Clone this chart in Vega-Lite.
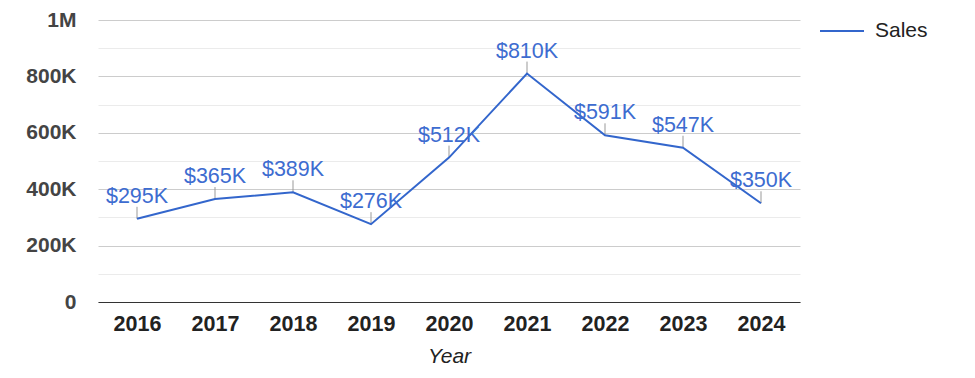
{
  "$schema": "https://vega.github.io/schema/vega-lite/v6.json",
  "width": 702,
  "height": 282,
  "autosize": {"type": "none"},
  "padding": {"left": 98, "top": 20, "right": 175, "bottom": 76},
  "background": "white",
  "config": {
    "font": "Liberation Sans",
    "view": {"stroke": null}
  },
  "data": {
    "values": [
      {"Year": "2016", "Sales": 295000, "Label": "$295K", "Series": "Sales"},
      {"Year": "2017", "Sales": 365000, "Label": "$365K", "Series": "Sales"},
      {"Year": "2018", "Sales": 389000, "Label": "$389K", "Series": "Sales"},
      {"Year": "2019", "Sales": 276000, "Label": "$276K", "Series": "Sales"},
      {"Year": "2020", "Sales": 512000, "Label": "$512K", "Series": "Sales"},
      {"Year": "2021", "Sales": 810000, "Label": "$810K", "Series": "Sales"},
      {"Year": "2022", "Sales": 591000, "Label": "$591K", "Series": "Sales"},
      {"Year": "2023", "Sales": 547000, "Label": "$547K", "Series": "Sales"},
      {"Year": "2024", "Sales": 350000, "Label": "$350K", "Series": "Sales"}
    ]
  },
  "encoding": {
    "x": {
      "field": "Year",
      "type": "ordinal",
      "scale": {"type": "point", "padding": 0.5},
      "axis": {
        "title": "Year",
        "titleFont": "Liberation Sans",
        "titleFontStyle": "italic",
        "titleFontWeight": "normal",
        "titleFontSize": 21,
        "titleColor": "#222222",
        "titlePadding": 11,
        "labelAngle": 0,
        "labelFontSize": 21.5,
        "labelFontWeight": "bold",
        "labelColor": "#222222",
        "labelPadding": 11,
        "ticks": false,
        "domainColor": "#333333",
        "domainWidth": 1,
        "grid": false
      }
    },
    "y": {
      "field": "Sales",
      "type": "quantitative",
      "scale": {"domain": [0, 1000000], "nice": false},
      "axis": {
        "title": null,
        "values": [0, 100000, 200000, 300000, 400000, 500000, 600000, 700000, 800000, 900000, 1000000],
        "labelExpr": "datum.value % 200000 !== 0 ? '' : (datum.value == 0 ? '0' : (datum.value >= 1000000 ? '1M' : (datum.value / 1000) + 'K'))",
        "labelFontSize": 21,
        "labelFontWeight": "bold",
        "labelColor": "#444444",
        "labelPadding": 22,
        "ticks": false,
        "domain": false,
        "grid": true,
        "gridColor": {"condition": {"test": "datum.value % 200000 === 0", "value": "#cccccc"}, "value": "#ebebeb"},
        "gridWidth": 1
      }
    }
  },
  "layer": [
    {
      "mark": {"type": "rule", "color": "#999999", "strokeWidth": 1, "y2Offset": -12},
      "encoding": {
        "y2": {"field": "Sales"}
      }
    },
    {
      "mark": {"type": "line", "strokeWidth": 2},
      "encoding": {
        "color": {
          "field": "Series",
          "type": "nominal",
          "scale": {"range": ["#3366cc"]},
          "legend": {
            "title": null,
            "orient": "none",
            "legendX": 721,
            "legendY": -12,
            "symbolType": "stroke",
            "symbolSize": 1936,
            "symbolStrokeWidth": 2,
            "labelFontSize": 21,
            "labelColor": "#222222",
            "labelOffset": 10
          }
        }
      }
    },
    {
      "mark": {"type": "text", "dy": -16, "baseline": "alphabetic", "align": "center", "fontSize": 21.5, "color": "#3d6cd0"},
      "encoding": {
        "text": {"field": "Label"}
      }
    }
  ]
}
